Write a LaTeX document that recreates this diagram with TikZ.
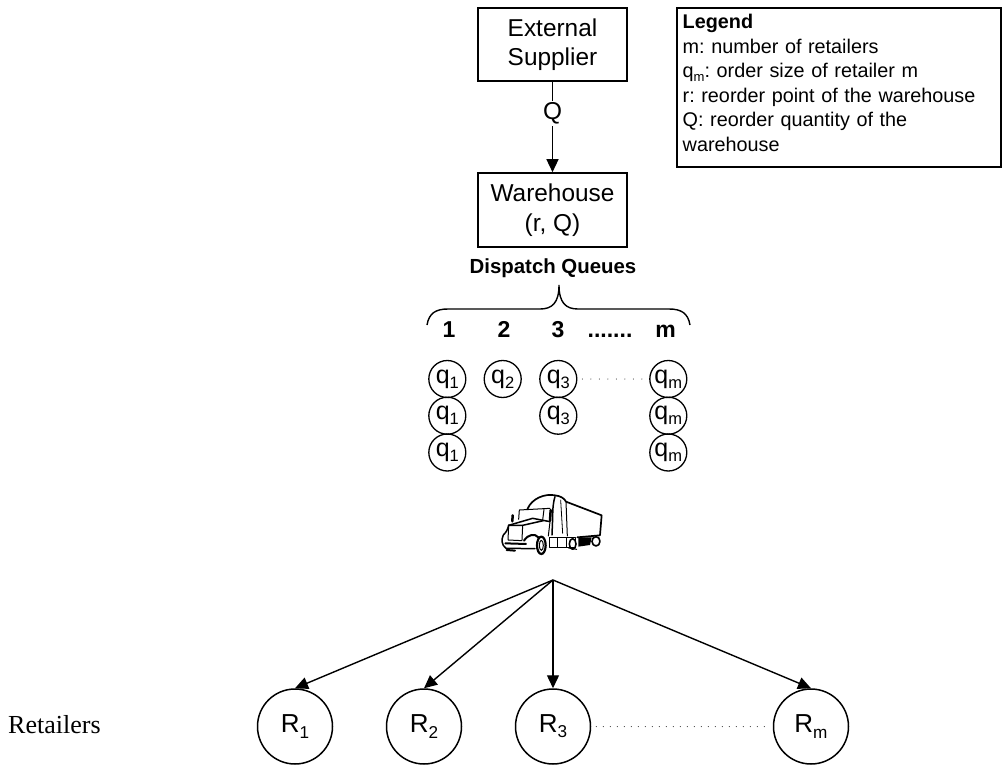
\documentclass[tikz,border=0pt]{standalone}
\usepackage{fontspec}
\setmainfont{Liberation Sans}
\newfontfamily\serifr{Liberation Serif}
\usetikzlibrary{arrows.meta}
\newcommand{\sbx}[1]{\raisebox{-0.2em}{\scalebox{0.66}{#1}}}
\tikzset{
  x=1pt,y=-1pt,
  boxn/.style={draw,line width=1.6pt,align=center,font=\fontsize{24.4}{29.5}\selectfont,inner sep=0pt},
  qc/.style={draw,circle,line width=1.3pt,minimum size=37pt,inner sep=0pt,font=\fontsize{25}{27}\selectfont},
  rc/.style={draw,circle,line width=1.5pt,minimum size=75pt,inner sep=0pt,font=\fontsize{26}{28}\selectfont},
  arr/.style={draw,line width=1.4pt,-{Triangle[length=13pt,width=12pt]}},
  dots/.style={draw,line width=1pt,line cap=round,dash pattern=on 0pt off 7pt},
  head/.style={font=\bfseries\fontsize{23}{26}\selectfont,anchor=base},
  trk/.style={line width=1.5pt,line cap=round,line join=round}
}
\begin{document}
\begin{tikzpicture}
\frenchspacing
\useasboundingbox (0,0) rectangle (1002,766);
\node[boxn,minimum width=149pt,minimum height=73pt] (sup) at (552.5,44.5) {External\\Supplier};
\node[boxn,minimum width=149pt,minimum height=74pt] (wh) at (552.5,210) {Warehouse\\(r, Q)};
\draw[arr] (sup.south) -- node[fill=white,inner ysep=2pt,inner xsep=1pt,font=\fontsize{24.4}{26}\selectfont,pos=.35] (qlab) {Q} (wh.north);
\node[draw,line width=1.5pt,minimum width=324pt,minimum height=159pt,inner sep=0pt] (leg) at (839,87.5) {};
\node[anchor=north west,align=left,inner sep=0pt,font=\fontsize{19.8}{24.5}\selectfont,text width=310pt] (legt) at (682.5,14)
{\textbf{Legend}\\m: number of retailers\\q\sbx{m}: order size of retailer m\\r: reorder point of the warehouse\\Q: reorder quantity of the\\warehouse};
\node[font=\bfseries\fontsize{20.4}{23}\selectfont] (dq) at (553,268) {Dispatch Queues};
\coordinate (bl) at (427,325); \coordinate (bt) at (559,285); \coordinate (br) at (690,325);
\draw[line width=1.4pt] (bl) .. controls (429,313) and (436,309) .. (448,309) -- (540,309)
 .. controls (552,309) and (559,303) .. (bt) .. controls (559,303) and (566,309) .. (578,309) -- (669,309)
 .. controls (681,309) and (688,313) .. (br);
\node[head] (h1) at (449,337) {1};
\node[head] (h2) at (504,337) {2};
\node[head] (h3) at (558,337) {3};
\node[head] (hd) at (610,337) {.......};
\node[head] (hm) at (665.5,337) {m};
\node[qc] (a1) at (447.3,379) {q\sbx{1}};
\node[qc] (a2) at (447.3,415.7) {q\sbx{1}};
\node[qc] (a3) at (447.3,452.5) {q\sbx{1}};
\node[qc] (b1) at (502.7,379) {q\sbx{2}};
\node[qc] (c1) at (558.3,379) {q\sbx{3}};
\node[qc] (c2) at (558.3,415.7) {q\sbx{3}};
\node[qc] (m1) at (668.3,379) {q\sbx{m}};
\node[qc] (m2) at (668.3,415.7) {q\sbx{m}};
\node[qc] (m3) at (668.3,452.5) {q\sbx{m}};
\draw[dots,shorten >=1pt,shorten <=5pt,dash pattern=on 0pt off 8.5pt] (c1) -- (m1);
% truck
\begin{scope}[shift={(470,450)},x=.3333pt,y=-.3333pt]
\draw[trk,line width=1.7pt] (172,178) .. controls (185,145) and (225,130) .. (255,136) .. controls (272,138) and (283,145) .. (288,155) -- (395,196) -- (390,256) -- (322,262);
\draw[trk,line width=1pt] (288,155) -- (292,258);
\draw[trk,line width=.8pt] (272,150) -- (278,250);
\draw[trk] (255,140) .. controls (250,155) and (248,175) .. (248,205) -- (246,255);
\draw[trk,line width=1pt] (148,180) -- (240,175) (148,180) -- (146,208);
\draw[trk,line width=1pt] (222,178) -- (218,210);
\draw[trk,line width=2.5pt] (242,180) -- (240,212);
\draw[trk,line width=2.5pt] (128,196) -- (127,214);
\draw[trk] (116,226) -- (188,205) -- (240,215);
\draw[trk] (116,226) -- (158,226) -- (220,212);
\draw[trk] (116,226) .. controls (112,240) and (110,245) .. (100,255) .. controls (94,268) and (94,285) .. (108,295) -- (195,296);
\draw[trk,line width=1pt] (158,226) -- (156,270) (116,226) -- (114,270) (114,270) -- (156,272);
\draw[trk,line width=2pt] (162,272) .. controls (175,252) and (195,250) .. (205,262);
\draw[trk,line width=1pt] (240,215) -- (235,258);
\draw[trk,line width=2pt] (106,280) -- (168,282);
\draw[trk,line width=2pt] (110,300) -- (135,302);
\draw[trk,line width=2.2pt] (214,286) ellipse [x radius=13,y radius=26];
\draw[trk,line width=1pt] (214,286) ellipse [x radius=6,y radius=15];
\draw[trk,line width=1pt] (238,262) -- (318,262) -- (318,292) -- (238,292) -- cycle;
\draw[trk,line width=1pt] (262,264) -- (262,292) (290,264) -- (290,292);
\draw[trk,line width=1.6pt] (308,282) ellipse [x radius=10,y radius=16];
\draw[trk,line width=1.6pt] (378,274) ellipse [x radius=12,y radius=14];
\fill (325,262) -- (365,262) -- (360,285) -- (325,290) -- cycle;
\draw[trk,line width=1pt] (296,294) -- (320,298);
\end{scope}
% retailers
\node[rc] (r1) at (295,726.5) {R\sbx{1}};
\node[rc] (r2) at (424,726.5) {R\sbx{2}};
\node[rc] (r3) at (553,726.5) {R\sbx{3}};
\node[rc] (rm) at (811,726.5) {R\sbx{m}};
\coordinate (hub) at (553,580);
\draw[arr] (hub) -- (r1.north);
\draw[arr] (hub) -- (r2.north);
\draw[arr] (hub) -- (r3.north);
\draw[arr] (hub) -- (rm.north);
\draw[dots,shorten >=5pt,shorten <=5pt] (r3) -- (rm);
\node[anchor=base west,inner sep=0pt,font=\serifr\fontsize{26}{28}\selectfont] (ret) at (8,733) {Retailers};
\end{tikzpicture}
\end{document}
